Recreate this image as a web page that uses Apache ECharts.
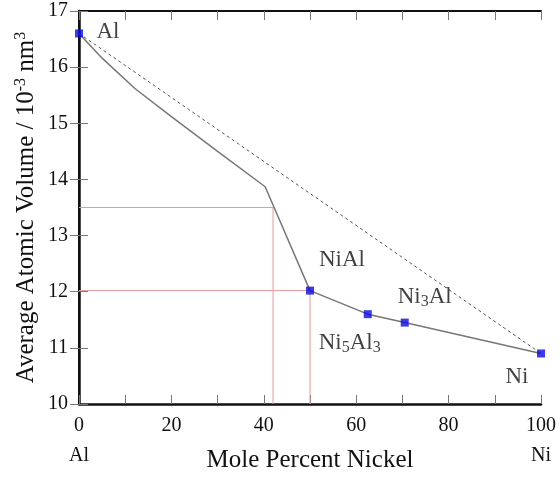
<!DOCTYPE html>
<html>
<head>
<meta charset="utf-8">
<script src="https://cdn.jsdelivr.net/npm/echarts@6/dist/echarts.min.js"></script>
<style>html,body{margin:0;padding:0;background:#fff}#c{width:560px;height:480px}</style>
</head>
<body>
<div id="c"></div>
<script>
// Solid curve: average atomic volume vs mole percent Ni
var curveX = [0, 5, 12.1, 20, 30, 40.3, 50, 62.5, 70.5, 100];
var curveY = [16.6, 16.16, 15.62, 15.12, 14.5, 13.87, 12.02, 11.6, 11.45, 10.9];
// Ideal (Vegard) dotted line
var idealX = [0, 100];
var idealY = [16.6, 10.9];
// Phases (blue squares)
var phaseNames = ['Al', 'NiAl', 'Ni5Al3', 'Ni3Al', 'Ni'];
var phaseX = [0, 50, 62.5, 70.5, 100];
var phaseY = [16.6, 12.02, 11.6, 11.45, 10.9];
var phaseLabels = ['{n|Al}', '{n|NiAl}', '{n|Ni}{s|5}{n|Al}{s|3}', '{n|Ni}{s|3}{n|Al}', '{n|Ni}'];
// Red guide lines
var guide1X = [0, 42, 42];
var guide1Y = [13.5, 13.5, 10];
var guide2X = [0, 50, 50];
var guide2Y = [12.02, 12.02, 10];
// Axis tick labels
var xTickLabels = {0: '{a|0}\n{b|Al}', 20: '20', 40: '40', 60: '60', 80: '80', 100: '{a|100}\n{b|Ni}'};

var FONT = 'Liberation Serif';
function pairs(xs, ys) { return xs.map(function (x, i) { return [x, ys[i]]; }); }
var labelOffsets = [[29, -2], [32, -31], [-18, 29], [20, -26], [-24, 23]];

var chart = echarts.init(document.getElementById('c'));
var richLbl = {
  n: { fontFamily: FONT, fontSize: 23, color: '#111' },
  s: { fontFamily: FONT, fontSize: 16, color: '#111', verticalAlign: 'bottom', padding: [10, 0, 0, 0] }
};
chart.setOption({
  animation: false,
  grid: { left: 79, right: 19, top: 11, bottom: 76, containLabel: false, outerBoundsMode: 'none' },
  xAxis: [{
    type: 'value', min: 0, max: 100, interval: 10, position: 'bottom',
    name: 'Mole Percent Nickel', nameLocation: 'middle', nameGap: 44, nameMoveOverlap: false,
    nameTextStyle: { fontFamily: FONT, fontSize: 25, color: '#111' },
    axisLine: { lineStyle: { color: '#111', width: 2.5 } },
    axisTick: { inside: true, length: 9, lineStyle: { color: '#777', width: 1 } },
    axisLabel: {
      margin: 7, fontFamily: FONT, fontSize: 20, color: '#111', lineHeight: 30,
      formatter: function (v) { return xTickLabels[v] !== undefined ? xTickLabels[v] : ''; },
      rich: { a: { fontFamily: FONT, fontSize: 20, color: '#111', lineHeight: 30 }, b: { fontFamily: FONT, fontSize: 20, color: '#111', lineHeight: 30 } }
    },
    splitLine: { show: false }
  }, {
    type: 'value', min: 0, max: 100, interval: 10, position: 'top',
    axisLine: { lineStyle: { color: '#111', width: 2 } },
    axisTick: { inside: true, length: 9, lineStyle: { color: '#777', width: 1 } },
    axisLabel: { show: false }, splitLine: { show: false }
  }],
  yAxis: [{
    type: 'value', min: 10, max: 17, interval: 1, position: 'left',
    name: '{a|Average Atomic Volume / 10}{sup|-3}{a| nm}{sup|3}', nameLocation: 'middle', nameGap: 40, nameMoveOverlap: false,
    nameTextStyle: {
      rich: {
        a: { fontFamily: FONT, fontSize: 25, color: '#111' },
        sup: { fontFamily: FONT, fontSize: 16, color: '#111', verticalAlign: 'top', padding: [0, 0, 10, 0] }
      }
    },
    axisLine: { lineStyle: { color: '#111', width: 2.5 } },
    axisTick: { inside: true, length: 9, lineStyle: { color: '#777', width: 1 } },
    axisLabel: { margin: 11, fontFamily: FONT, fontSize: 20, color: '#111' },
    splitLine: { show: false }
  }, {
    type: 'value', min: 10, max: 17, interval: 1, position: 'right',
    axisLine: { lineStyle: { color: '#111', width: 2 } },
    axisTick: { inside: true, length: 9, lineStyle: { color: '#777', width: 1 } },
    axisLabel: { show: false }, splitLine: { show: false }
  }],
  series: [
    { type: 'line', data: pairs(guide1X, guide1Y), symbol: 'none', lineStyle: { color: '#e59a9a', width: 1 }, z: 1 },
    { type: 'line', data: pairs(guide2X, guide2Y), symbol: 'none', lineStyle: { color: '#e59a9a', width: 1 }, z: 1 },
    { type: 'line', data: pairs(idealX, idealY), symbol: 'none', lineStyle: { color: '#555', width: 1, type: [3, 3] }, z: 2 },
    { type: 'line', data: pairs(curveX, curveY), symbol: 'none', lineStyle: { color: '#777', width: 1.5 }, z: 3 },
    {
      type: 'scatter', symbol: 'rect', symbolSize: 8, clip: false, z: 5,
      itemStyle: { color: '#0a0ae6' },
      data: phaseX.map(function (x, i) {
        return {
          value: [x, phaseY[i]], name: phaseNames[i],
          label: { show: true, position: 'inside', offset: labelOffsets[i], color: '#111', formatter: phaseLabels[i], rich: richLbl }
        };
      })
    }
  ]
});
</script>
</body>
</html>
